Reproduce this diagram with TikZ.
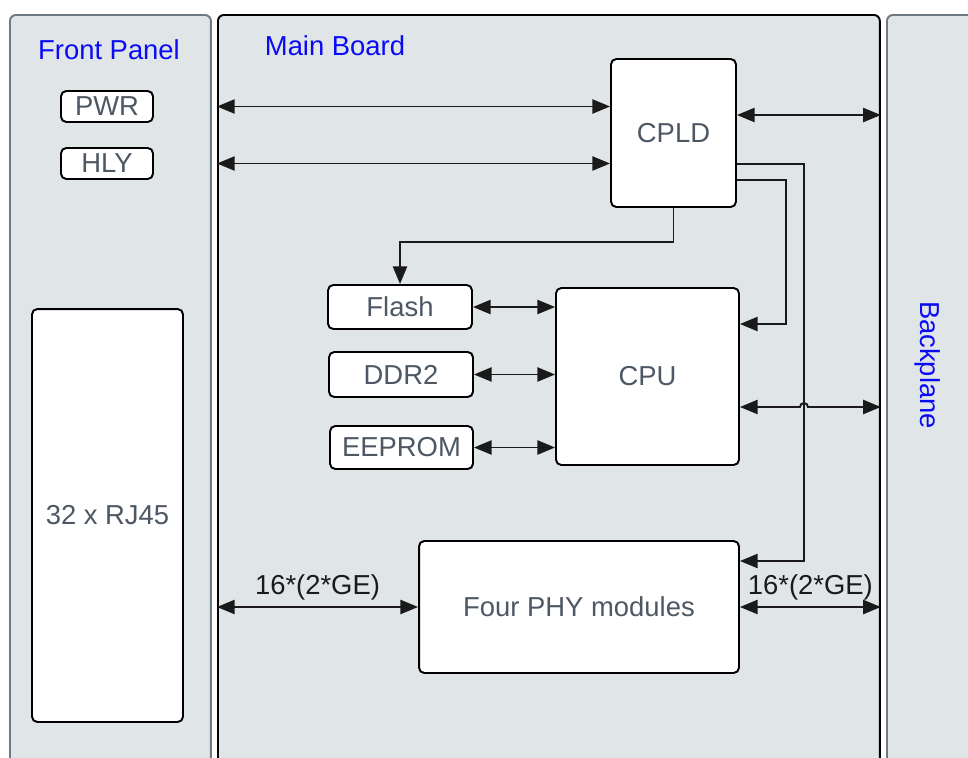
\documentclass[tikz,border=0pt]{standalone}
\usepackage{fontspec}
\setmainfont{Liberation Sans}
\usetikzlibrary{arrows.meta}
\definecolor{panelfill}{HTML}{E0E5E8}
\definecolor{panelline}{HTML}{6E7A83}
\definecolor{boxtext}{HTML}{4D5864}
\definecolor{linecol}{HTML}{1A1A1A}
\definecolor{titleblue}{HTML}{0A0AF5}
\tikzset{
  panel/.style={draw, rounded corners=3.4pt, fill=panelfill, line width=1.1pt,
    anchor=north west, minimum height=16cm, inner sep=0pt},
  box/.style={draw, rounded corners=3pt, fill=white, line width=1.1pt,
    text=boxtext, inner sep=0pt},
  title/.style={text=titleblue},
  link/.style={line width=1.1pt, draw=linecol, -{Triangle[length=10pt,width=8pt]}},
  biarrow/.style={link, {Triangle[length=10pt,width=8pt]}-{Triangle[length=10pt,width=8pt]}},
}
\begin{document}
\begin{tikzpicture}[x=0.02cm,y=-0.02cm,font=\fontsize{15.6}{18}\selectfont]
\useasboundingbox (0,0) rectangle (968,758);
\clip (0,0) rectangle (968,758);

\node[panel, draw=panelline, minimum width=4.02cm] (front) at (9,14) {};
\node[panel, draw=black, minimum width=13.24cm] (main) at (217,14) {};
\node[panel, draw=panelline, minimum width=4cm] (back) at (886,14) {};
\node[title] (fronttitle) at (109,50) {Front Panel};
\node[title] (maintitle) at (335,46) {Main Board};
\node[title, rotate=-90] (backtitle) at (928,365) {Backplane};

\node[box, minimum width=1.84cm, minimum height=0.62cm] (pwr) at (107,106.5) {PWR};
\node[box, minimum width=1.84cm, minimum height=0.62cm] (hly) at (107,163.5) {HLY};
\node[box, minimum width=3.02cm, minimum height=8.26cm] (rj45) at (107.5,515.5) {32 x RJ45};

\node[box, minimum width=2.5cm, minimum height=2.96cm] (cpld) at (673.5,133) {CPLD};
\node[box, minimum width=2.88cm, minimum height=0.88cm] (flash) at (400,307) {Flash};
\node[box, minimum width=2.88cm, minimum height=0.9cm] (ddr) at (401,374.5) {DDR2};
\node[box, minimum width=2.86cm, minimum height=0.86cm] (eeprom) at (401.5,447.5) {EEPROM};
\node[box, minimum width=3.66cm, minimum height=3.54cm] (cpu) at (647.5,376.5) {CPU};
\node[box, minimum width=6.4cm, minimum height=2.64cm] (phy) at (579,607) {Four PHY modules};

\coordinate (cpldbp) at ([yshift=0.36cm]cpld.east);
\coordinate (cpldcpu) at ([yshift=-0.94cm]cpld.east);
\coordinate (cpldphy) at ([yshift=-0.62cm]cpld.east);
\coordinate (cpubp) at ([yshift=-0.61cm]cpu.east);

\draw[biarrow] (main.west |- pwr) -- (cpld.west |- pwr);
\draw[biarrow] (main.west |- hly) -- (cpld.west |- hly);
\draw[biarrow] (cpldbp) -- (cpldbp -| main.east);
\draw[link] (cpld.south) -- ++(0,34) -| (flash.north);
\draw[link] (cpldcpu) -- ++(49,0) |- ([yshift=1.05cm]cpu.east);
\draw[link] (cpldphy) -- ++(67,0) |- ([yshift=0.92cm]phy.east);
\draw[biarrow] (cpubp) -- ++(60,0) arc[start angle=180, end angle=0, radius=0.08cm]
  -- (cpubp -| main.east);

\draw[biarrow] (flash.east) -- (flash.east -| cpu.west);
\draw[biarrow] (ddr.east) -- (ddr.east -| cpu.west);
\draw[biarrow] (eeprom.east) -- (eeprom.east -| cpu.west);

\draw[biarrow] (main.west |- phy) -- node[above, text=linecol] (geleft) {16*(2*GE)} (phy.west);
\draw[biarrow] (phy.east) -- node[above, text=linecol] (geright) {16*(2*GE)} (phy.east -| main.east);
\end{tikzpicture}
\end{document}
